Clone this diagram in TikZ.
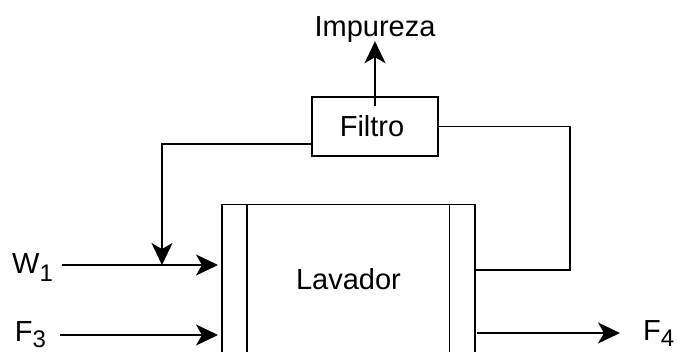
\documentclass[tikz,border=0pt]{standalone}
\usepackage{fontspec}
\setmainfont{Liberation Sans}
\usetikzlibrary{arrows.meta}
\newcommand\subidx[2][8pt]{\raisebox{-#1}{\fontsize{24}{24}\selectfont #2}}
\begin{document}
\begin{tikzpicture}[x=1pt,y=-1pt,
  ln/.style={line width=1.5pt, draw=black},
  arr/.style={ln, -{Stealth[length=22pt,width=21pt,inset=6pt]}},
  lbl/.style={inner sep=0pt, font=\fontsize{29}{29}\selectfont},
  box/.style={ln, rectangle, inner sep=0pt}]
\useasboundingbox (0,0) rectangle (678,352);
\clip (0,0) rectangle (678,352);
\fill[white] (0,0) rectangle (678,352);

% Lavador
\node[box, minimum width=253pt, minimum height=220pt, anchor=north west] (lav) at (221,204) {};
\draw[ln] ([xshift=26pt]lav.north west) -- ([xshift=26pt]lav.south west);
\draw[ln] ([xshift=-26pt]lav.north east) -- ([xshift=-26pt]lav.south east);
\node[lbl] (lavtxt) at (348.5,279) {Lavador};

% Filtro
\node[box, lbl, minimum width=126pt, minimum height=59pt] (filtro) at (375,126.5) {Filtro\hspace*{6pt}};

% Impureza
\node[lbl, anchor=base] (imp) at (375,37) {Impureza};
\draw[arr] ([yshift=-10pt]filtro.north) -- ([yshift=2pt]filtro.north |- imp.south);

% labels
\node[lbl, anchor=base west] (w1) at (12,274) {W\subidx{1}};
\node[lbl, anchor=base west] (f3) at (14.7,342) {F\subidx[5.5pt]{3}};
\node[lbl, anchor=base west] (f4) at (643,341) {F\subidx[5.5pt]{4}};

% ports
\coordinate (w1s) at (62,265);
\coordinate (pW) at (221,265);
\coordinate (wjoin) at (162,265);
\coordinate (f3s) at (60,335);
\coordinate (pF3) at (221,335);
\coordinate (f4s) at (477,333);
\coordinate (f4e) at (620,333);
\coordinate (rl) at (474,270);
\coordinate (rc) at (570,270);

% streams
\draw[arr, shorten >=3pt] (w1s) -- (pW);
\draw[arr, shorten >=3pt] (f3s) -- (pF3);
\draw[arr] (f4s) -- (f4e);
\draw[arr] ([yshift=-17.5pt]filtro.west) -| (wjoin);
\draw[ln] (filtro.east) -| (rc) -- (rl);
\end{tikzpicture}
\end{document}
